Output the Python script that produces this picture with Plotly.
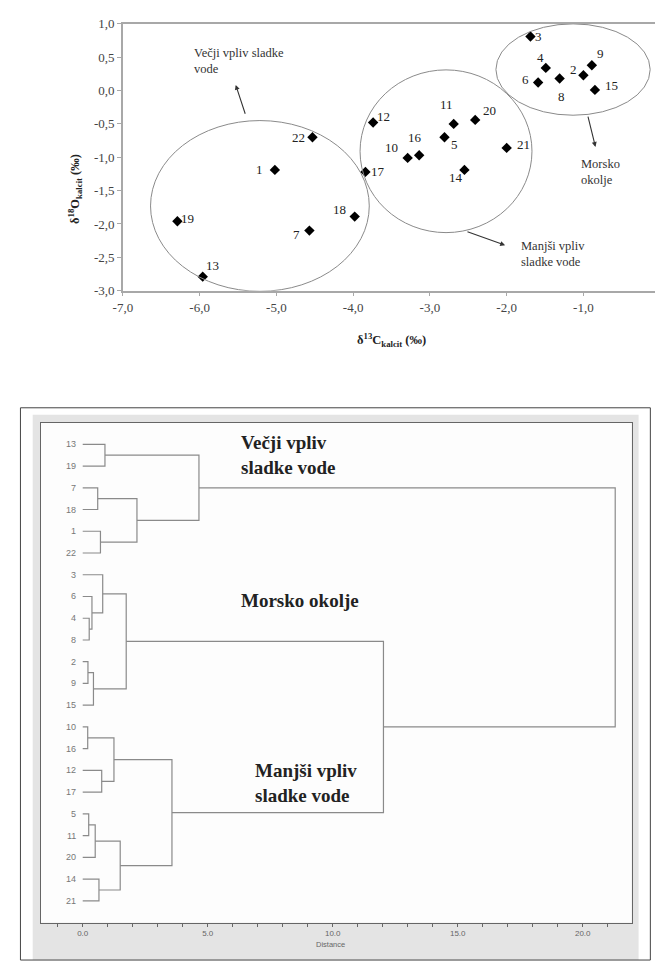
import plotly.graph_objects as go

W, H = 663, 963
OFF = 8  # the page body offsets the figure by 8 px inside the browser window

# ---------------- data: scatter (top) ----------------
samples = ["1", "2", "3", "4", "5", "6", "7", "8", "9", "10", "11",
           "12", "13", "14", "15", "16", "17", "18", "19", "20", "21", "22"]
d13C = [-5.02, -1.00, -1.69, -1.49, -2.81, -1.59, -4.57, -1.31, -0.89, -3.29, -2.69,
        -3.74, -5.96, -2.55, -0.85, -3.14, -3.84, -3.98, -6.29, -2.41, -2.00, -4.53]
d18O = [-1.19, 0.23, 0.81, 0.34, -0.70, 0.12, -2.10, 0.18, 0.38, -1.01, -0.50,
        -0.48, -2.79, -1.19, 0.01, -0.97, -1.22, -1.89, -1.96, -0.44, -0.86, -0.70]

x_tickvals = [-7, -6, -5, -4, -3, -2, -1, 0]
x_ticktext = ["-7,0", "-6,0", "-5,0", "-4,0", "-3,0", "-2,0", "-1,0", "0"]
y_tickvals = [1.0, 0.5, 0.0, -0.5, -1.0, -1.5, -2.0, -2.5, -3.0]
y_ticktext = ["1,0", "0,5", "0,0", "-0,5", "-1,0", "-1,5", "-2,0", "-2,5", "-3,0"]

# group ellipses (x0, x1, y0, y1) in data units
ellipses = [(-6.64, -3.79, -3.01, -0.45),
            (-3.91, -1.67, -2.13, 0.31),
            (-2.14, -0.13, -0.37, 1.00)]

# ---------------- data: dendrogram (bottom) ----------------
leaves = ["13", "19", "7", "18", "1", "22", "3", "6", "4", "8", "2", "9", "15",
          "10", "16", "12", "17", "5", "11", "20", "14", "21"]
# merges: (left, right, distance); ints >= 100 refer to earlier merges (100 + index)
merges = [("13", "19", 0.89),
          ("7", "18", 0.60),
          ("1", "22", 0.71),
          (101, 102, 2.17),
          (100, 103, 4.65),
          ("4", "8", 0.26),
          ("6", 105, 0.37),
          ("3", 106, 0.80),
          ("2", "9", 0.21),
          (108, "15", 0.43),
          (107, 109, 1.74),
          ("10", "16", 0.20),
          ("12", "17", 0.76),
          (111, 112, 1.25),
          ("5", "11", 0.24),
          (114, "20", 0.50),
          ("14", "21", 0.65),
          (115, 116, 1.50),
          (113, 117, 3.57),
          (110, 118, 12.03),
          (104, 119, 21.30)]
dist_tickvals = [0, 5, 10, 15, 20]
dist_ticktext = ["0.0", "5.0", "10.0", "15.0", "20.0"]


def fx(px):
    return (px - OFF) / W


def fy(py):
    return 1 - (py - OFF) / H


SERIF = "Liberation Serif"
SANS = "Liberation Sans"

fig = go.Figure()

# top scatter
fig.add_trace(go.Scatter(
    x=d13C, y=d18O, mode="markers",
    marker=dict(symbol="diamond", size=8, color="black"),
    xaxis="x", yaxis="y", showlegend=False, hoverinfo="skip"))

# dendrogram segments
pos = {}
for i, lab in enumerate(leaves):
    pos[lab] = (i, 0.0)
seg_x, seg_y = [], []
for k, (a, b, h) in enumerate(merges):
    ya, ha = pos[a]
    yb, hb = pos[b]
    seg_x += [ha, h, h, hb, None]
    seg_y += [ya, ya, yb, yb, None]
    pos[100 + k] = ((ya + yb) / 2, h)

fig.add_trace(go.Scatter(
    x=seg_x, y=seg_y, mode="lines",
    line=dict(color="#8a8a8a", width=1.2),
    xaxis="x2", yaxis="y2", showlegend=False, hoverinfo="skip"))

annotations = []
shapes = []

# point labels (offsets in pixels)
label_offsets = [(-15, 0), (-10, 6), (8, 0), (-5, 10), (10, -7), (-13, 3), (-13, -4),
                 (2, -18), (9, 12), (-16, 10), (-7, 19), (10, 6), (10, 11), (-8, -8),
                 (17, 4), (-4, 18), (13, 0), (-15, 7), (10, 3), (14, 9), (17, 3), (-14, 0)]
for s, xv, yv, (dx, dy) in zip(samples, d13C, d18O, label_offsets):
    annotations.append(dict(x=xv, y=yv, xref="x", yref="y", text=s, showarrow=False,
                            xshift=dx, yshift=dy,
                            font=dict(family=SERIF, size=13, color="#222")))

# ellipses
for (x0, x1, y0, y1) in ellipses:
    shapes.append(dict(type="circle", xref="x", yref="y", x0=x0, x1=x1, y0=y0, y1=y1,
                       line=dict(color="#8a8a8a", width=1)))

# group texts and arrows (top)
small = dict(family=SERIF, size=12.5, color="#333")
annotations.append(dict(x=fx(185), y=fy(55), xref="paper", yref="paper",
                        text="Večji vpliv sladke<br>vode", showarrow=False,
                        xanchor="left", yanchor="middle", align="left", font=small))
annotations.append(dict(x=fx(580), y=fy(167.5), xref="paper", yref="paper",
                        text="Morsko<br>okolje", showarrow=False,
                        xanchor="left", yanchor="middle", align="left", font=small))
annotations.append(dict(x=fx(519), y=fy(251), xref="paper", yref="paper",
                        text="Manjši vpliv<br>sladke vode", showarrow=False,
                        xanchor="left", yanchor="middle", align="left", font=small))
arrows = [((-5.53, 0.085), (-5.40, -0.37)),
          ((-0.843, -0.845), (-0.945, -0.37)),
          ((-2.02, -2.32), (-2.53, -2.11))]
for (hx, hy), (tx, ty) in arrows:
    annotations.append(dict(x=hx, y=hy, ax=tx, ay=ty, xref="x", yref="y",
                            axref="x", ayref="y", text="", showarrow=True,
                            arrowhead=2, arrowsize=0.9, arrowwidth=1.1,
                            arrowcolor="#333"))

# axis titles (top)
annotations.append(dict(x=fx(55), y=fy(147), xref="paper", yref="paper",
                        text="<b>δ<sup>18</sup>O<sub>kalcit</sub> (‰)</b>", showarrow=False,
                        textangle=-90, font=dict(family=SERIF, size=12.5, color="#222")))
annotations.append(dict(x=fx(389), y=fy(327), xref="paper", yref="paper",
                        text="<b>δ<sup>13</sup>C<sub>kalcit</sub> (‰)</b>", showarrow=False,
                        font=dict(family=SERIF, size=12.5, color="#222")))

# dendrogram leaf labels
for i, lab in enumerate(leaves):
    annotations.append(dict(x=0, y=i, xref="x2", yref="y2", text=lab, showarrow=False,
                            xanchor="right", xshift=-5,
                            font=dict(family=SANS, size=9, color="#777")))

# dendrogram group texts
big = dict(family=SERIF, size=19, color="#222")
annotations.append(dict(x=fx(233), y=fy(455), xref="paper", yref="paper",
                        text="<b>Večji vpliv<br>sladke vode</b>", showarrow=False,
                        xanchor="left", yanchor="middle", align="left", font=big))
annotations.append(dict(x=fx(233), y=fy(603), xref="paper", yref="paper",
                        text="<b>Morsko okolje</b>", showarrow=False,
                        xanchor="left", yanchor="middle", align="left", font=big))
annotations.append(dict(x=fx(248), y=fy(788.5), xref="paper", yref="paper",
                        text="<b>Manjši vpliv<br>sladke vode</b>", showarrow=False,
                        xanchor="left", yanchor="middle", align="left", font=big))
annotations.append(dict(x=fx(327), y=fy(947), xref="paper", yref="paper",
                        text="Distance", showarrow=False, yanchor="top", borderpad=0,
                        font=dict(family=SANS, size=7.5, color="#666")))

# frames for dendrogram panel
shapes.append(dict(type="rect", xref="paper", yref="paper", layer="below",
                   x0=fx(23), x1=fx(641), y0=fy(968), y1=fy(414),
                   fillcolor="#e4e4e4", line=dict(width=0)))
shapes.append(dict(type="rect", xref="paper", yref="paper", layer="below",
                   x0=fx(31), x1=fx(634), y0=fy(930), y1=fy(422),
                   fillcolor="#fdfdfd", line=dict(width=0)))
shapes.append(dict(type="rect", xref="paper", yref="paper", layer="below",
                   x0=fx(10.5), x1=fx(653), y0=fy(968), y1=fy(407),
                   fillcolor="rgba(0,0,0,0)", line=dict(color="#444", width=1)))

fig.update_layout(
    width=W, height=H,
    margin=dict(l=0, r=0, t=0, b=0),
    paper_bgcolor="white", plot_bgcolor="rgba(0,0,0,0)",
    showlegend=False,
    xaxis=dict(domain=[fx(115), fx(663)], range=[-7, 0], anchor="y",
               tickvals=x_tickvals, ticktext=x_ticktext,
               showgrid=False, zeroline=False, showline=True, mirror=True,
               linecolor="#a8a8a8", linewidth=1.5, ticks="outside", ticklen=4,
               tickcolor="#a8a8a8",
               tickfont=dict(family=SERIF, size=13, color="#444")),
    yaxis=dict(domain=[fy(288), fy(17)], range=[-3, 1], anchor="x",
               tickvals=y_tickvals, ticktext=y_ticktext,
               showgrid=False, zeroline=False, showline=True, mirror=False,
               linecolor="#a8a8a8", linewidth=1.5, ticks="outside", ticklen=4,
               tickcolor="#a8a8a8",
               tickfont=dict(family=SERIF, size=13, color="#444")),
    xaxis2=dict(domain=[fx(31), fx(634)], range=[(31 - 74) / 25.5, (634 - 74) / 25.5],
                anchor="y2", tickvals=dist_tickvals, ticktext=dist_ticktext,
                showgrid=False, zeroline=False, showline=True, mirror=True,
                linecolor="#666", linewidth=1.2, ticks="outside", ticklen=3,
                tickcolor="#666",
                minor=dict(dtick=1, tick0=0, ticks="outside", ticklen=3, tickcolor="#666"),
                tickfont=dict(family=SANS, size=8, color="#666")),
    yaxis2=dict(domain=[fy(930), fy(422)], range=[22, -1], anchor="x2",
                showgrid=False, zeroline=False, showline=True, mirror=True,
                linecolor="#666", linewidth=1.2, showticklabels=False, ticks=""),
    annotations=annotations,
    shapes=shapes,
)

fig.write_html("out.html", config={"displayModeBar": False})
